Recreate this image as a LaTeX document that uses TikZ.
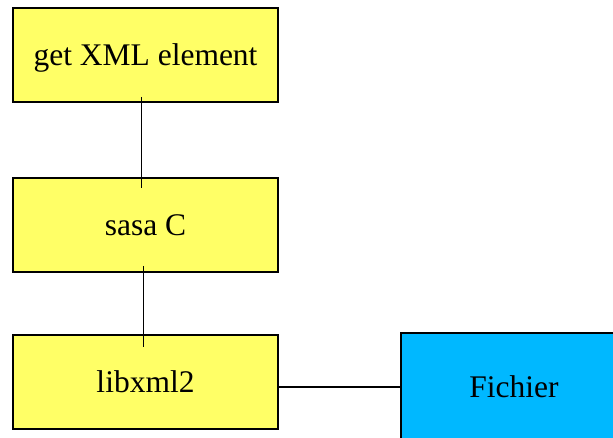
\documentclass[tikz,border=0pt]{standalone}
\usepackage{fontspec}
\setmainfont{Liberation Serif}
\usepackage{tikz}
\usetikzlibrary{calc}
\newcommand{\unitsize}{1pt}
\definecolor{layeryellow}{RGB}{255,255,102}
\definecolor{fileblue}{RGB}{0,184,255}
\tikzset{
	layer/.style={draw=black, fill=layeryellow, line width=1.6pt, minimum width=265pt, minimum height=94pt, inner sep=0pt, text height=21.5pt, text depth=0pt, font=\fontsize{31.5}{36}\selectfont},
	filebox/.style={layer, fill=fileblue, minimum width=226pt, minimum height=108pt},
	link/.style={line width=1.8pt, black}
}

\begin{document}
\begin{tikzpicture}[x=\unitsize,y=-\unitsize]
	\useasboundingbox (0,0) rectangle (613,438);
	\clip (0,0) rectangle (613,438);
	\node [layer] (get) at (145.5,55) {get XML element};
	\node [layer] (sasa) at (145.5,225) {sasa C};
	\node [layer] (libxml) at (145.5,382) {libxml2};
	\node [filebox] (fichier) at (514,387) {Fichier};

	\draw [link, shorten <=-6pt, shorten >=-11pt] ([xshift=-4pt]get.south) -- ([xshift=-4pt]sasa.north);
	\draw [link, shorten <=-7pt, shorten >=-13pt] ([xshift=-2pt]sasa.south) -- ([xshift=-2pt]libxml.north);
	\draw [link] (libxml.east |- 0,387) -- (fichier.west |- 0,387);
\end{tikzpicture}
\end{document}
